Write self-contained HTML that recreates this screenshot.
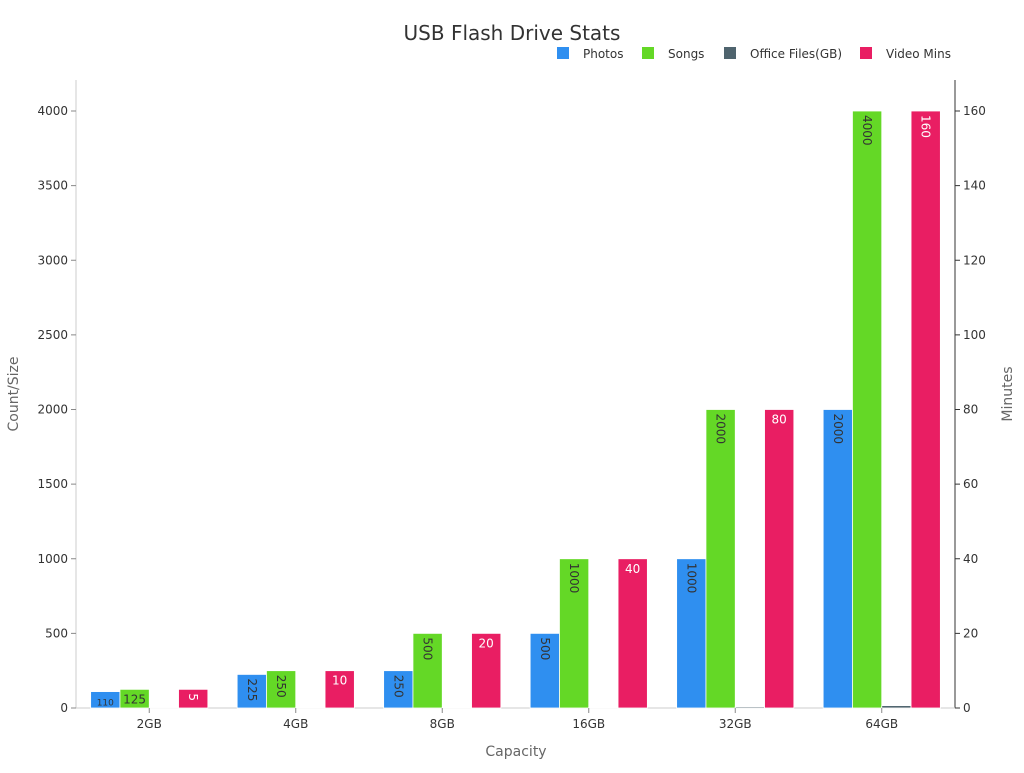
<!DOCTYPE html>
<html><head><meta charset="utf-8"><style>
body{margin:0;background:#fff;font-family:"Liberation Sans","DejaVu Sans",sans-serif}
</style></head><body>
<svg width="1024" height="768" id="c" font-family="DejaVu Sans, Liberation Sans, sans-serif">
<text x="512" y="40" text-anchor="middle" font-size="20" fill="#333">USB Flash Drive Stats</text>
</svg>
<script>
const categories=["2GB","4GB","8GB","16GB","32GB","64GB"];
const photos=[110,225,250,500,1000,2000];
const songs=[125,250,500,1000,2000,4000];
const office=[0.5,1,2,4,8,16];
const videoMins=[5,10,20,40,80,160];
const leftTicks=[0,500,1000,1500,2000,2500,3000,3500,4000];
const rightTicks=[0,20,40,60,80,100,120,140,160];
const photoRot=[false,true,true,true,true,true];
const songRot=[false,true,true,true,true,true];
const videoRot=[true,false,false,false,false,true];

const svg=document.getElementById('c');const NS='http://www.w3.org/2000/svg';
const L=76,R=955,T=111,B=708;
const yL=v=>B-(v/4000)*(B-T);
const yR=v=>B-(v/160)*(B-T);
const band=(R-L)/categories.length;
function mk(t,a,p){const e=document.createElementNS(NS,t);for(const k in a)e.setAttribute(k,a[k]);if(p)p.appendChild(e);else svg.appendChild(e);return e;}
// axes
let e=mk('line',{x1:L,y1:80,x2:L,y2:B,stroke:'#ccc'});


e=mk('line',{x1:R,y1:80,x2:R,y2:B,stroke:'#333'});


e=mk('line',{x1:L,y1:B,x2:R,y2:B,stroke:'#ccc'});


leftTicks.forEach(v=>{const y=yL(v);
 mk('line',{x1:L-5,y1:y,x2:L,y2:y,stroke:'#888'});
 const t=mk('text',{x:L-8,y:y+4,'text-anchor':'end','font-size':12,fill:'#333'});t.textContent=v;
 
 });
rightTicks.forEach(v=>{const y=yR(v);
 mk('line',{x1:R,y1:y,x2:R+5,y2:y,stroke:'#333'});
 const t=mk('text',{x:R+8,y:y+4,'font-size':12,fill:'#333'});t.textContent=v;
 
 });
const bw=29.3;
function label(x,y0,h,val,rot,col,fs){
 let t;
 if(rot){t=mk('text',{x:0,y:0,'font-size':fs,fill:col,transform:`translate(${x-4},${y0+4}) rotate(90)`});}
 else{t=mk('text',{x:x,y:y0+14,'text-anchor':'middle','font-size':fs,fill:col});}
 t.textContent=val;
 
 
}
categories.forEach((c,i)=>{
 const cx=L+band*(i+0.5);const x0=cx-2*bw;
 const series=[[photos[i],yL,'#2f8ff0','photos',photoRot[i],'#333'],[songs[i],yL,'#64d826','songs',songRot[i],'#333'],[office[i],yL,'#4f646e','office-files',null,''],[videoMins[i],yR,'#e91e63','video-mins',videoRot[i],'#fff']];
 series.forEach((s,k)=>{const y=s[1](s[0]);const x=x0+k*bw;
  const r=mk('rect',{x:x,y:y,width:bw,height:B-y,fill:s[2],stroke:'#fff','stroke-width':0.8});
  
  
  if(s[4]!==null){label(x+bw/2,y,B-y,s[0],s[4],s[5],(s[0]===110)?9:12);}
 });
 mk('line',{x1:cx,y1:B,x2:cx,y2:B+5,stroke:'#888'});
 const t=mk('text',{x:cx,y:B+20,'text-anchor':'middle','font-size':12,fill:'#333'});t.textContent=c;
 
 
});
let t=mk('text',{x:516,y:756,'text-anchor':'middle','font-size':14,fill:'#666'});t.textContent='Capacity';


t=mk('text',{x:0,y:0,'text-anchor':'middle','font-size':14,fill:'#666',transform:'translate(18,394) rotate(-90)'});t.textContent='Count/Size';


t=mk('text',{x:0,y:0,'text-anchor':'middle','font-size':14,fill:'#666',transform:'translate(1012,394) rotate(-90)'});t.textContent='Minutes';


const legend=[["Photos",'#2f8ff0',557],["Songs",'#64d826',642],["Office Files(GB)",'#4f646e',724],["Video Mins",'#e91e63',860]];
legend.forEach(l=>{
 const g=mk('g',{});
 
 
 mk('rect',{x:l[2],y:47,width:12,height:12,fill:l[1]},g);
 const tx=mk('text',{x:l[2]+26,y:58,'font-size':12,fill:'#333'},g);tx.textContent=l[0];
});
</script>
</body></html>
